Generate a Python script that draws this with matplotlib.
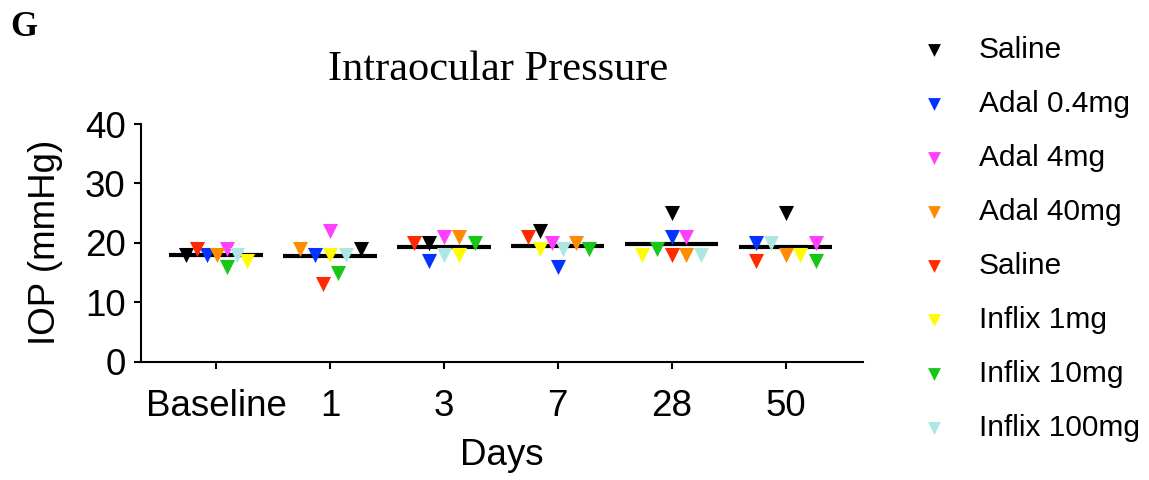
import matplotlib
matplotlib.use("Agg")
import matplotlib.pyplot as plt
import numpy as np

# ---- data ----
days = ["Baseline", "1", "3", "7", "28", "50"]
series_labels = ["Saline", "Adal 0.4mg", "Adal 4mg", "Adal 40mg",
                 "Saline", "Inflix 1mg", "Inflix 10mg", "Inflix 100mg"]
saline_a = [18, 19, 20, 22, 25, 25]
adal_04 = [18, 18, 17, 16, 21, 20]
adal_4 = [19, 22, 21, 20, 21, 20]
adal_40 = [18, 19, 21, 20, 18, 18]
saline_i = [19, 13, 20, 21, 18, 17]
inflix_1 = [17, 18, 18, 19, 18, 18]
inflix_10 = [16, 15, 20, 19, 19, 17]
inflix_100 = [18, 18, 18, 19, 18, 20]
series_values = [saline_a, adal_04, adal_4, adal_40,
                 saline_i, inflix_1, inflix_10, inflix_100]

# ---- layout: horizontal scatter spread (category units), one list per series ----
spread = [
    [-0.264, 0.27, -0.13, -0.16, 0.0, 0.0],
    [-0.082, -0.13, -0.13, 0.0, 0.0, -0.26],
    [0.094, 0.0, 0.0, -0.055, 0.13, 0.27],
    [0.006, -0.26, 0.13, 0.16, 0.13, 0.0],
    [-0.170, -0.065, -0.26, -0.26, 0.0, -0.26],
    [0.275, 0.0, 0.13, -0.16, -0.26, 0.13],
    [0.094, 0.068, 0.27, 0.27, -0.13, 0.27],
    [0.182, 0.137, 0.0, 0.05, 0.26, -0.13],
]
colors = ["#000000", "#0433FF", "#FF40FF", "#FF8C00",
          "#FF2A00", "#FFFB00", "#16C716", "#AEE6E3"]

fig = plt.figure(figsize=(11.49, 4.8), dpi=100)
ax = fig.add_axes([141 / 1149, 1 - 361.7 / 480, 722 / 1149, 237.7 / 480])

sans = ["Liberation Sans", "DejaVu Sans"]
serif = ["Liberation Serif", "DejaVu Serif"]
fs = 26.5

xpos = np.arange(len(days))
vals = np.array(series_values, dtype=float)
means = vals.mean(axis=0)
ax.hlines(means, xpos - 0.41, xpos + 0.41, colors="black", linewidth=3.0, zorder=2)

for lab, v, off, c in zip(series_labels, series_values, spread, colors):
    ax.scatter(xpos + np.array(off), v, marker="v", s=118, color=c,
               linewidths=0, zorder=3, label=lab)

ax.set_xlim(-0.66, 5.68)
ax.set_ylim(0, 40)
ax.set_yticks([0, 10, 20, 30, 40])
ax.set_xticks(xpos)
ax.set_xticklabels(days)
for s in ["top", "right"]:
    ax.spines[s].set_visible(False)
for s in ["left", "bottom"]:
    ax.spines[s].set_linewidth(1.5)
ax.tick_params(axis="both", width=1.5, length=5, labelsize=fs)
ax.tick_params(axis="x", pad=15)
ax.tick_params(axis="y", pad=6)
for t in ax.get_xticklabels() + ax.get_yticklabels():
    t.set_fontfamily(sans)
ax.set_xlabel("Days", fontsize=fs, family=sans, labelpad=10)
ax.set_ylabel("IOP (mmHg)", fontsize=fs, family=sans, labelpad=16)

fig.text(498 / 1149, 1 - 70 / 480, "Intraocular Pressure", ha="center", va="center",
         fontsize=30.5, family=serif)
fig.text(10 / 1149, 1 - 27 / 480, "G", ha="left", va="center",
         fontsize=25, family=serif, fontweight="bold")

handles, labels = ax.get_legend_handles_labels()
leg = fig.legend(handles, labels, loc="upper left", bbox_to_anchor=(916 / 1149, 1 - 36 / 480),
                 frameon=False, prop={"family": sans, "size": 21.5},
                 markerscale=0.85, handletextpad=0.9, labelspacing=0.87,
                 handlelength=1.2, borderpad=0, borderaxespad=0)

fig.savefig("out.png", dpi=100)
